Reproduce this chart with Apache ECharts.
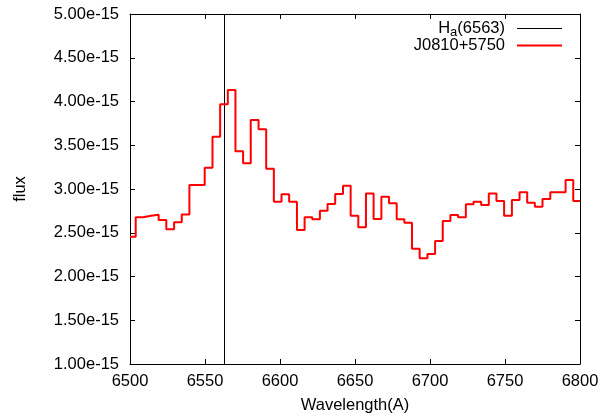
<!DOCTYPE html>
<html>
<head>
<meta charset="utf-8">
<script src="https://cdn.jsdelivr.net/npm/echarts@6/dist/echarts.min.js"></script>
<style>
  html, body { margin: 0; padding: 0; background: #fff; }
  #chart { width: 615px; height: 417px; }
</style>
</head>
<body>
<div id="chart"></div>
<script>
// left edge of each spectrum bin (Angstrom)
const wavelength = [6500.0, 6503.8, 6508.9, 6514.0, 6519.1, 6524.2, 6529.4, 6534.5, 6539.6, 6544.7,
  6549.8, 6555.0, 6560.1, 6565.2, 6570.3, 6575.4, 6580.5, 6585.7, 6590.8, 6595.9,
  6601.0, 6606.1, 6611.3, 6616.4, 6621.5, 6626.6, 6631.7, 6636.8, 6642.0, 6647.1,
  6652.2, 6657.3, 6662.4, 6667.6, 6672.7, 6677.8, 6682.9, 6688.0, 6693.1, 6698.3,
  6703.4, 6708.5, 6713.6, 6718.7, 6723.9, 6729.0, 6734.1, 6739.2, 6744.3, 6749.4,
  6754.6, 6759.7, 6764.8, 6769.9, 6775.0, 6780.2, 6785.3, 6790.4, 6795.5];
// flux in units of 1e-15
const flux = [2.455, 2.676, 2.695, 2.706, 2.646, 2.539, 2.619, 2.710, 3.046, 3.046,
  3.244, 3.598, 3.968, 4.131, 3.431, 3.293, 3.789, 3.682, 3.232, 2.855,
  2.939, 2.855, 2.531, 2.676, 2.653, 2.752, 2.829, 2.943, 3.038, 2.695,
  2.562, 2.950, 2.657, 2.912, 2.836, 2.653, 2.615, 2.318, 2.208, 2.257,
  2.406, 2.634, 2.703, 2.676, 2.825, 2.855, 2.817, 2.950, 2.863, 2.695,
  2.874, 2.962, 2.844, 2.798, 2.886, 2.962, 2.962, 3.103, 2.863];
const halpha = 6563;
const xTicks = [6500, 6800, 50];
const yTicks = [1, 5, 0.5];

const font = 'Liberation Sans, Arial, sans-serif';
const fs = 16.5;
const myChart = echarts.init(document.getElementById('chart'));

const spec = wavelength.map((w, i) => [w, flux[i]]);
spec.push([xTicks[1], flux[flux.length - 1]]);

const tick = { show: true, inside: true, length: 5, lineStyle: { color: '#000', width: 1 } };
const frame = { show: true, onZero: false, lineStyle: { color: '#000', width: 1 } };

const legendBase = {
  orient: 'vertical',
  right: 53,
  padding: 0,
  align: 'right',
  icon: 'rect',
  itemWidth: 45,
  selectedMode: false,
  textStyle: {
    fontFamily: font, fontSize: fs, color: '#000', padding: [0, 7, 0, 0],
    rich: {
      n: { fontFamily: font, fontSize: fs, color: '#000' },
      s: { fontFamily: font, fontSize: 13, color: '#000', verticalAlign: 'bottom', padding: [7, 0, 0, 0] }
    }
  }
};

option = {
  animation: false,
  grid: { left: 130, right: 35, top: 14, bottom: 53, outerBoundsMode: 'none' },
  legend: [
    Object.assign({}, legendBase, {
      top: 20, itemHeight: 1,
      data: ['Ha(6563)'],
      formatter: () => '{n|H}{s|a}{n|(6563)}'
    }),
    Object.assign({}, legendBase, { top: 37, itemHeight: 2, data: ['J0810+5750'] })
  ],
  xAxis: [
    {
      type: 'value', min: xTicks[0], max: xTicks[1], interval: xTicks[2],
      name: 'Wavelength(A)', nameLocation: 'middle', nameGap: 33,
      nameTextStyle: { fontFamily: font, fontSize: fs, color: '#000' },
      axisLine: frame, axisTick: tick, splitLine: { show: false },
      axisLabel: { fontFamily: font, fontSize: fs, color: '#000', margin: 9, formatter: v => String(v) }
    },
    {
      type: 'value', position: 'top', min: xTicks[0], max: xTicks[1], interval: xTicks[2],
      axisLine: frame, axisTick: tick, splitLine: { show: false }, axisLabel: { show: false }
    }
  ],
  yAxis: [
    {
      type: 'value', min: yTicks[0], max: yTicks[1], interval: yTicks[2],
      name: 'flux', nameLocation: 'middle', nameGap: 101,
      nameTextStyle: { fontFamily: font, fontSize: fs, color: '#000' },
      axisLine: frame, axisTick: tick, splitLine: { show: false },
      axisLabel: {
        fontFamily: font, fontSize: fs, color: '#000', margin: 11,
        formatter: v => v.toFixed(2) + 'e-15'
      }
    },
    {
      type: 'value', position: 'right', min: yTicks[0], max: yTicks[1], interval: yTicks[2],
      axisLine: frame, axisTick: tick, splitLine: { show: false }, axisLabel: { show: false }
    }
  ],
  series: [
    {
      name: 'Ha(6563)', type: 'line', symbol: 'none',
      data: [[halpha, yTicks[0]], [halpha, yTicks[1]]],
      lineStyle: { color: '#000', width: 1 }, itemStyle: { color: '#000' }
    },
    {
      name: 'J0810+5750', type: 'line', step: 'end', symbol: 'none',
      data: spec,
      lineStyle: { color: '#ff0000', width: 2 }, itemStyle: { color: '#ff0000' }
    }
  ]
};
option && myChart.setOption(option);
</script>
</body>
</html>
